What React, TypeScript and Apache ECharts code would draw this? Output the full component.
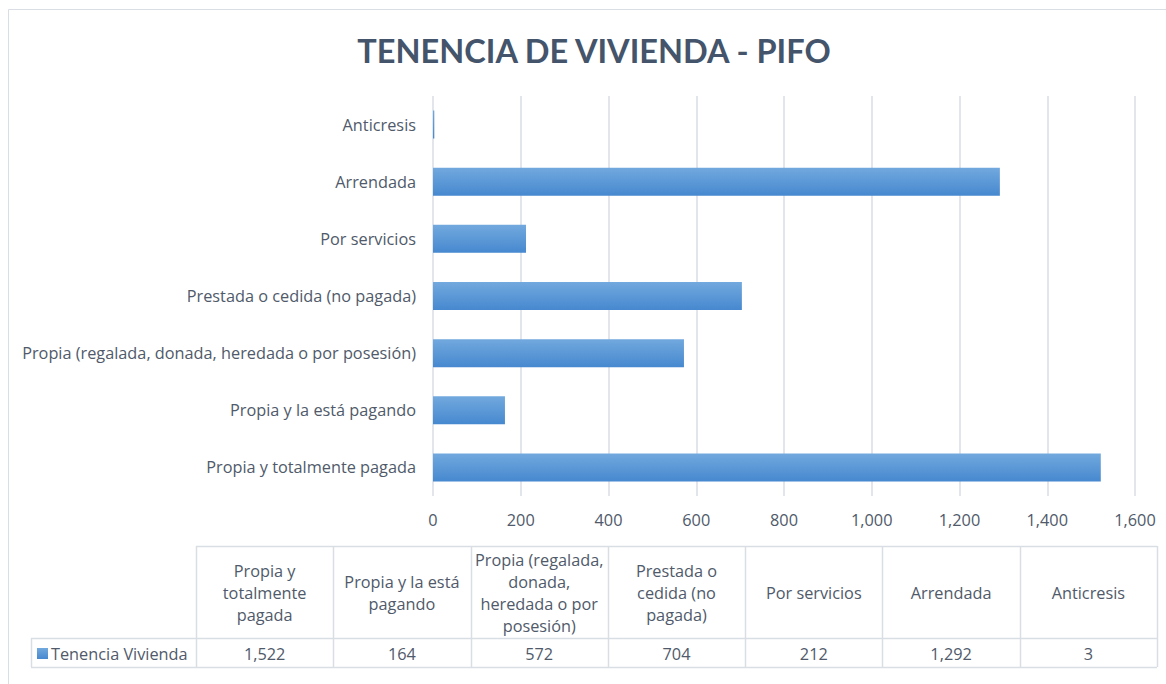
import React, { useEffect, useRef } from "react";
import * as echarts from "echarts";

const categories = [
  "Propia y totalmente pagada",
  "Propia y la está pagando",
  "Propia (regalada, donada, heredada o por posesión)",
  "Prestada o cedida (no pagada)",
  "Por servicios",
  "Arrendada",
  "Anticresis",
];
const tableHeaders = [
  "Propia y\ntotalmente\npagada",
  "Propia y la está\npagando",
  "Propia (regalada,\ndonada,\nheredada o por\nposesión)",
  "Prestada o\ncedida (no\npagada)",
  "Por servicios",
  "Arrendada",
  "Anticresis",
];
const values = [1522, 164, 572, 704, 212, 1292, 3];
const seriesName = "Tenencia Vivienda";
const titleText = "TENENCIA DE VIVIENDA - PIFO";
const xMin = 0;
const xMax = 1600;
const xStep = 200;

const FONT = "'Open Sans', sans-serif";
const TFONT = "Lato, 'Open Sans', sans-serif";
const TXT = "#505a6a";
const LINE = "#d9dde4";
const FS = 16.3;

const fmt = (v: number) => v.toLocaleString("en-US");

export default function App() {
  const ref = useRef<HTMLDivElement>(null);
  useEffect(() => {
    if (!ref.current) return;
    const chart = echarts.init(ref.current, null, { renderer: "svg" });

    const tLeft = 196;
    const tRight = 1157;
    const colW = (tRight - tLeft) / categories.length;
    const hTop = 546;
    const rowTop = 638;
    const rowBot = 667;
    const legLeft = 31;

    const graphics: any[] = [];
    graphics.push({
      type: "rect",
      shape: { x: 8.5, y: 9.5, width: 1300, height: 800 },
      style: { fill: "none", stroke: LINE, lineWidth: 1 },
      silent: true,
    });
    graphics.push({ type: "line", shape: { x1: tLeft, y1: hTop + 0.5, x2: tRight, y2: hTop + 0.5 }, style: { stroke: LINE, lineWidth: 1.5 } });
    graphics.push({ type: "line", shape: { x1: legLeft, y1: rowTop + 0.5, x2: tRight, y2: rowTop + 0.5 }, style: { stroke: LINE, lineWidth: 1.5 } });
    graphics.push({ type: "line", shape: { x1: legLeft, y1: rowBot + 0.5, x2: tRight, y2: rowBot + 0.5 }, style: { stroke: LINE, lineWidth: 1.5 } });
    graphics.push({ type: "line", shape: { x1: legLeft + 0.5, y1: rowTop, x2: legLeft + 0.5, y2: rowBot }, style: { stroke: LINE, lineWidth: 1.5 } });
    for (let i = 0; i <= categories.length; i++) {
      const x = Math.round(tLeft + i * colW) + 0.5;
      graphics.push({ type: "line", shape: { x1: x, y1: hTop, x2: x, y2: rowBot }, style: { stroke: LINE, lineWidth: 1.5 } });
    }
    tableHeaders.forEach((h, i) => {
      graphics.push({
        type: "text",
        x: tLeft + (i + 0.5) * colW,
        y: (hTop + rowTop) / 2 + 1,
        style: {
          text: h,
          align: "center",
          verticalAlign: "middle",
          fill: TXT,
          font: `${FS}px ${FONT}`,
          lineHeight: 22,
        },
      });
    });
    values.forEach((v, i) => {
      graphics.push({
        type: "text",
        x: tLeft + (i + 0.5) * colW,
        y: (rowTop + rowBot) / 2 + 1,
        style: {
          text: fmt(v),
          align: "center",
          verticalAlign: "middle",
          fill: TXT,
          font: `${FS}px ${FONT}`,
        },
      });
    });
    graphics.push({
      type: "rect",
      shape: { x: 37, y: 648, width: 11, height: 11 },
      style: {
        fill: new echarts.graphic.LinearGradient(0, 0, 0, 1, [
          { offset: 0, color: "#72a9de" },
          { offset: 1, color: "#4688cf" },
        ]),
      },
    });
    graphics.push({
      type: "text",
      x: 51,
      y: (rowTop + rowBot) / 2 + 1,
      style: { text: seriesName, align: "left", verticalAlign: "middle", fill: TXT, font: `${FS}px ${FONT}` },
    });

    chart.setOption({
      animation: false,
      backgroundColor: "#ffffff",
      title: {
        text: titleText,
        left: 589,
        top: 29,
        textAlign: "center",
        textStyle: { color: "#44546a", fontSize: 32.5, fontWeight: "bold", fontFamily: TFONT },
      },
      grid: { left: 433, right: 31, top: 96, bottom: 188, containLabel: false },
      xAxis: {
        type: "value",
        min: xMin,
        max: xMax,
        interval: xStep,
        axisLine: { show: false },
        axisTick: { show: false },
        axisLabel: {
          color: TXT,
          fontSize: FS,
          fontFamily: FONT,
          margin: 16,
          formatter: (v: number) => fmt(v),
        },
        splitLine: { show: true, lineStyle: { color: LINE, width: 1.5 } },
      },
      yAxis: {
        type: "category",
        data: categories,
        axisLine: { show: false },
        axisTick: { show: false },
        axisLabel: { color: TXT, fontSize: FS, fontFamily: FONT, margin: 17 },
        splitLine: { show: false },
      },
      series: [
        {
          name: seriesName,
          type: "bar",
          data: values,
          barWidth: 28,
          itemStyle: {
            color: new echarts.graphic.LinearGradient(0, 0, 0, 1, [
              { offset: 0, color: "#72a9de" },
              { offset: 1, color: "#4688cf" },
            ]),
          },
        },
      ],
      graphic: graphics,
    });
    return () => chart.dispose();
  }, []);
  return (
    <div
      ref={ref}
      style={{ position: "fixed", left: 0, top: 0, width: 1166, height: 684, background: "#fff" }}
    />
  );
}
